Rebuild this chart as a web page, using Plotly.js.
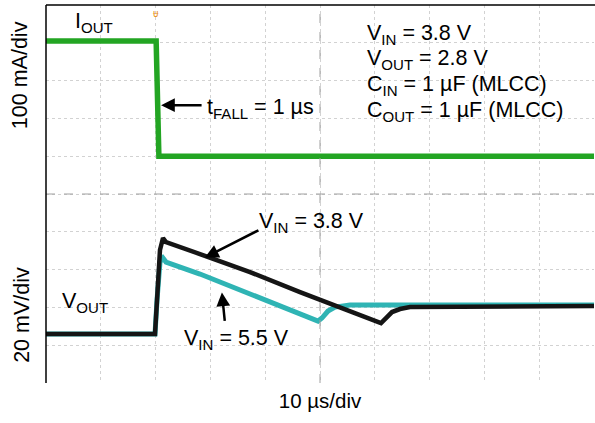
<!DOCTYPE html>
<html>
<head>
<meta charset="utf-8">
<script src="https://cdn.plot.ly/plotly-3.0.1.min.js"></script>
<style>html,body{margin:0;padding:0;background:#fff;}#chart{width:595px;height:423px;}</style>
</head>
<body>
<div id="chart"></div>
<script>
// Time base: µs (10 µs/div)
const ioutTime = [0, 20.1, 20.6, 100];
const ioutMilliamps = [305, 305, 0, 0];

const vout38Time = [0, 19.89, 20.26, 20.80, 21.35, 21.90, 28.10, 37.23, 46.35, 53.65, 57.30, 60.04, 61.13, 62.04, 63.14, 64.60, 66.42, 100];
const vout38Millivolts = [0, 0, 17.99, 44.44, 50.79, 48.68, 42.33, 32.80, 22.22, 14.29, 10.58, 7.41, 5.82, 8.47, 11.64, 13.23, 14.29, 14.81];

const vout55Time = [0, 19.89, 20.26, 20.80, 21.35, 21.90, 28.10, 37.23, 46.35, 48.18, 49.64, 50.36, 51.46, 52.74, 55.47, 100];
const vout55Millivolts = [0, 0, 17.99, 38.10, 40.21, 38.10, 31.75, 21.16, 10.58, 8.47, 6.88, 8.47, 12.17, 14.29, 15.34, 15.34];

const infoLines = [
  "V<sub>IN</sub> = 3.8 V",
  "V<sub>OUT</sub> = 2.8 V",
  "C<sub>IN</sub> = 1 µF (MLCC)",
  "C<sub>OUT</sub> = 1 µF (MLCC)"
];

const FONT = "Liberation Sans, Arial, Helvetica, sans-serif";
const FS = 21.5;

const traces = [
  {x: ioutTime, y: ioutMilliamps, type: 'scatter', mode: 'lines', yaxis: 'y',
   line: {color: '#23a523', width: 5.5}, hoverinfo: 'skip'},
  {x: vout55Time, y: vout55Millivolts, type: 'scatter', mode: 'lines', yaxis: 'y2',
   line: {color: '#2fb4b4', width: 5}, hoverinfo: 'skip'},
  {x: vout38Time, y: vout38Millivolts, type: 'scatter', mode: 'lines', yaxis: 'y2',
   line: {color: '#151515', width: 4.5}, hoverinfo: 'skip'}
];

const infoY = [0.922, 0.856, 0.788, 0.719];
const annotations = infoLines.map((t, i) => ({
  text: t, xref: 'paper', yref: 'paper', x: 0.582, y: infoY[i],
  xanchor: 'left', yanchor: 'middle', showarrow: false,
  font: {family: FONT, size: FS, color: '#000'}
}));

annotations.push(
  {text: "I<sub>OUT</sub>", xref: 'paper', yref: 'paper', x: 0.049, y: 0.955, xanchor: 'left', yanchor: 'middle', showarrow: false, font: {family: FONT, size: FS, color: '#000'}},
  {text: "t<sub>FALL</sub> = 1 µs", xref: 'paper', yref: 'paper', x: 0.29, y: 0.727, xanchor: 'left', yanchor: 'middle', showarrow: false, font: {family: FONT, size: FS, color: '#000'}},
  {text: "V<sub>IN</sub> = 3.8 V", xref: 'paper', yref: 'paper', x: 0.385, y: 0.425, xanchor: 'left', yanchor: 'middle', showarrow: false, font: {family: FONT, size: FS, color: '#000'}},
  {text: "V<sub>IN</sub> = 5.5 V", xref: 'paper', yref: 'paper', x: 0.248, y: 0.114, xanchor: 'left', yanchor: 'middle', showarrow: false, font: {family: FONT, size: FS, color: '#000'}},
  {text: "V<sub>OUT</sub>", xref: 'paper', yref: 'paper', x: 0.0255, y: 0.213, xanchor: 'left', yanchor: 'middle', showarrow: false, font: {family: FONT, size: FS, color: '#000'}},
  {text: "100 mA/div", xref: 'paper', yref: 'paper', x: -0.047, y: 0.815, xanchor: 'center', yanchor: 'middle', textangle: -90, showarrow: false, font: {family: FONT, size: FS, color: '#000'}},
  {text: "20 mV/div", xref: 'paper', yref: 'paper', x: -0.044, y: 0.18, xanchor: 'center', yanchor: 'middle', textangle: -90, showarrow: false, font: {family: FONT, size: FS, color: '#000'}},
  // arrows
  {text: '', xref: 'x', yref: 'y', x: 21.0, y: 135, ax: 42, ay: 0, showarrow: true, arrowhead: 2, arrowsize: 1.1, arrowwidth: 2.5, arrowcolor: '#000'},
  {text: '', xref: 'x', yref: 'y2', x: 29.0, y: 40.5, ax: 55, ay: -28, showarrow: true, arrowhead: 2, arrowsize: 1.1, arrowwidth: 2.5, arrowcolor: '#000'},
  {text: '', xref: 'x', yref: 'y2', x: 32.1, y: 22, ax: 3, ay: 30, showarrow: true, arrowhead: 2, arrowsize: 1.1, arrowwidth: 2.5, arrowcolor: '#000'},
  // trigger marker
  {text: 'ᵾ', xref: 'x', yref: 'paper', x: 20.1, y: 0.978, xanchor: 'center', yanchor: 'middle', showarrow: false, font: {family: FONT, size: 10, color: '#e8901a'}}
);

const shapes = [
  {type: 'line', xref: 'paper', yref: 'paper', x0: 0, x1: 1, y0: 0.5, y1: 0.5, line: {color: '#a0a0a0', width: 1, dash: 'dash'}},
  {type: 'line', xref: 'paper', yref: 'paper', x0: 0.5, x1: 0.5, y0: 0, y1: 1, line: {color: '#a0a0a0', width: 1, dash: 'dash'}},
  {type: 'line', xref: 'paper', yref: 'paper', x0: 0, x1: 0, y0: 0, y1: 1, line: {color: '#000', width: 1.5}},
  {type: 'line', xref: 'paper', yref: 'paper', x0: 0, x1: 1.01, y0: 1, y1: 1, line: {color: '#000', width: 1.5}}
];

const layout = {
  width: 595, height: 423,
  margin: {l: 46, r: 1, t: 5, b: 40},
  paper_bgcolor: '#fff', plot_bgcolor: '#fff',
  showlegend: false,
  font: {family: FONT, size: FS, color: '#000'},
  xaxis: {range: [0, 100], dtick: 10, showticklabels: false, ticks: '', zeroline: false,
          showgrid: true, gridcolor: '#d2d2d2', griddash: 'dot', gridwidth: 1, showline: false,
          title: {text: '10 µs/div', standoff: 10, font: {family: FONT, size: 20.5, color: '#000'}}},
  yaxis: {range: [-600, 400], dtick: 100, showticklabels: false, ticks: '', zeroline: false,
          showgrid: true, gridcolor: '#d2d2d2', griddash: 'dot', gridwidth: 1, showline: false},
  yaxis2: {range: [-25.9, 174.1], overlaying: 'y', showticklabels: false, ticks: '', zeroline: false,
           showgrid: false, showline: false},
  annotations: annotations,
  shapes: shapes
};

Plotly.newPlot('chart', traces, layout, {staticPlot: true, displayModeBar: false});
</script>
</body>
</html>
